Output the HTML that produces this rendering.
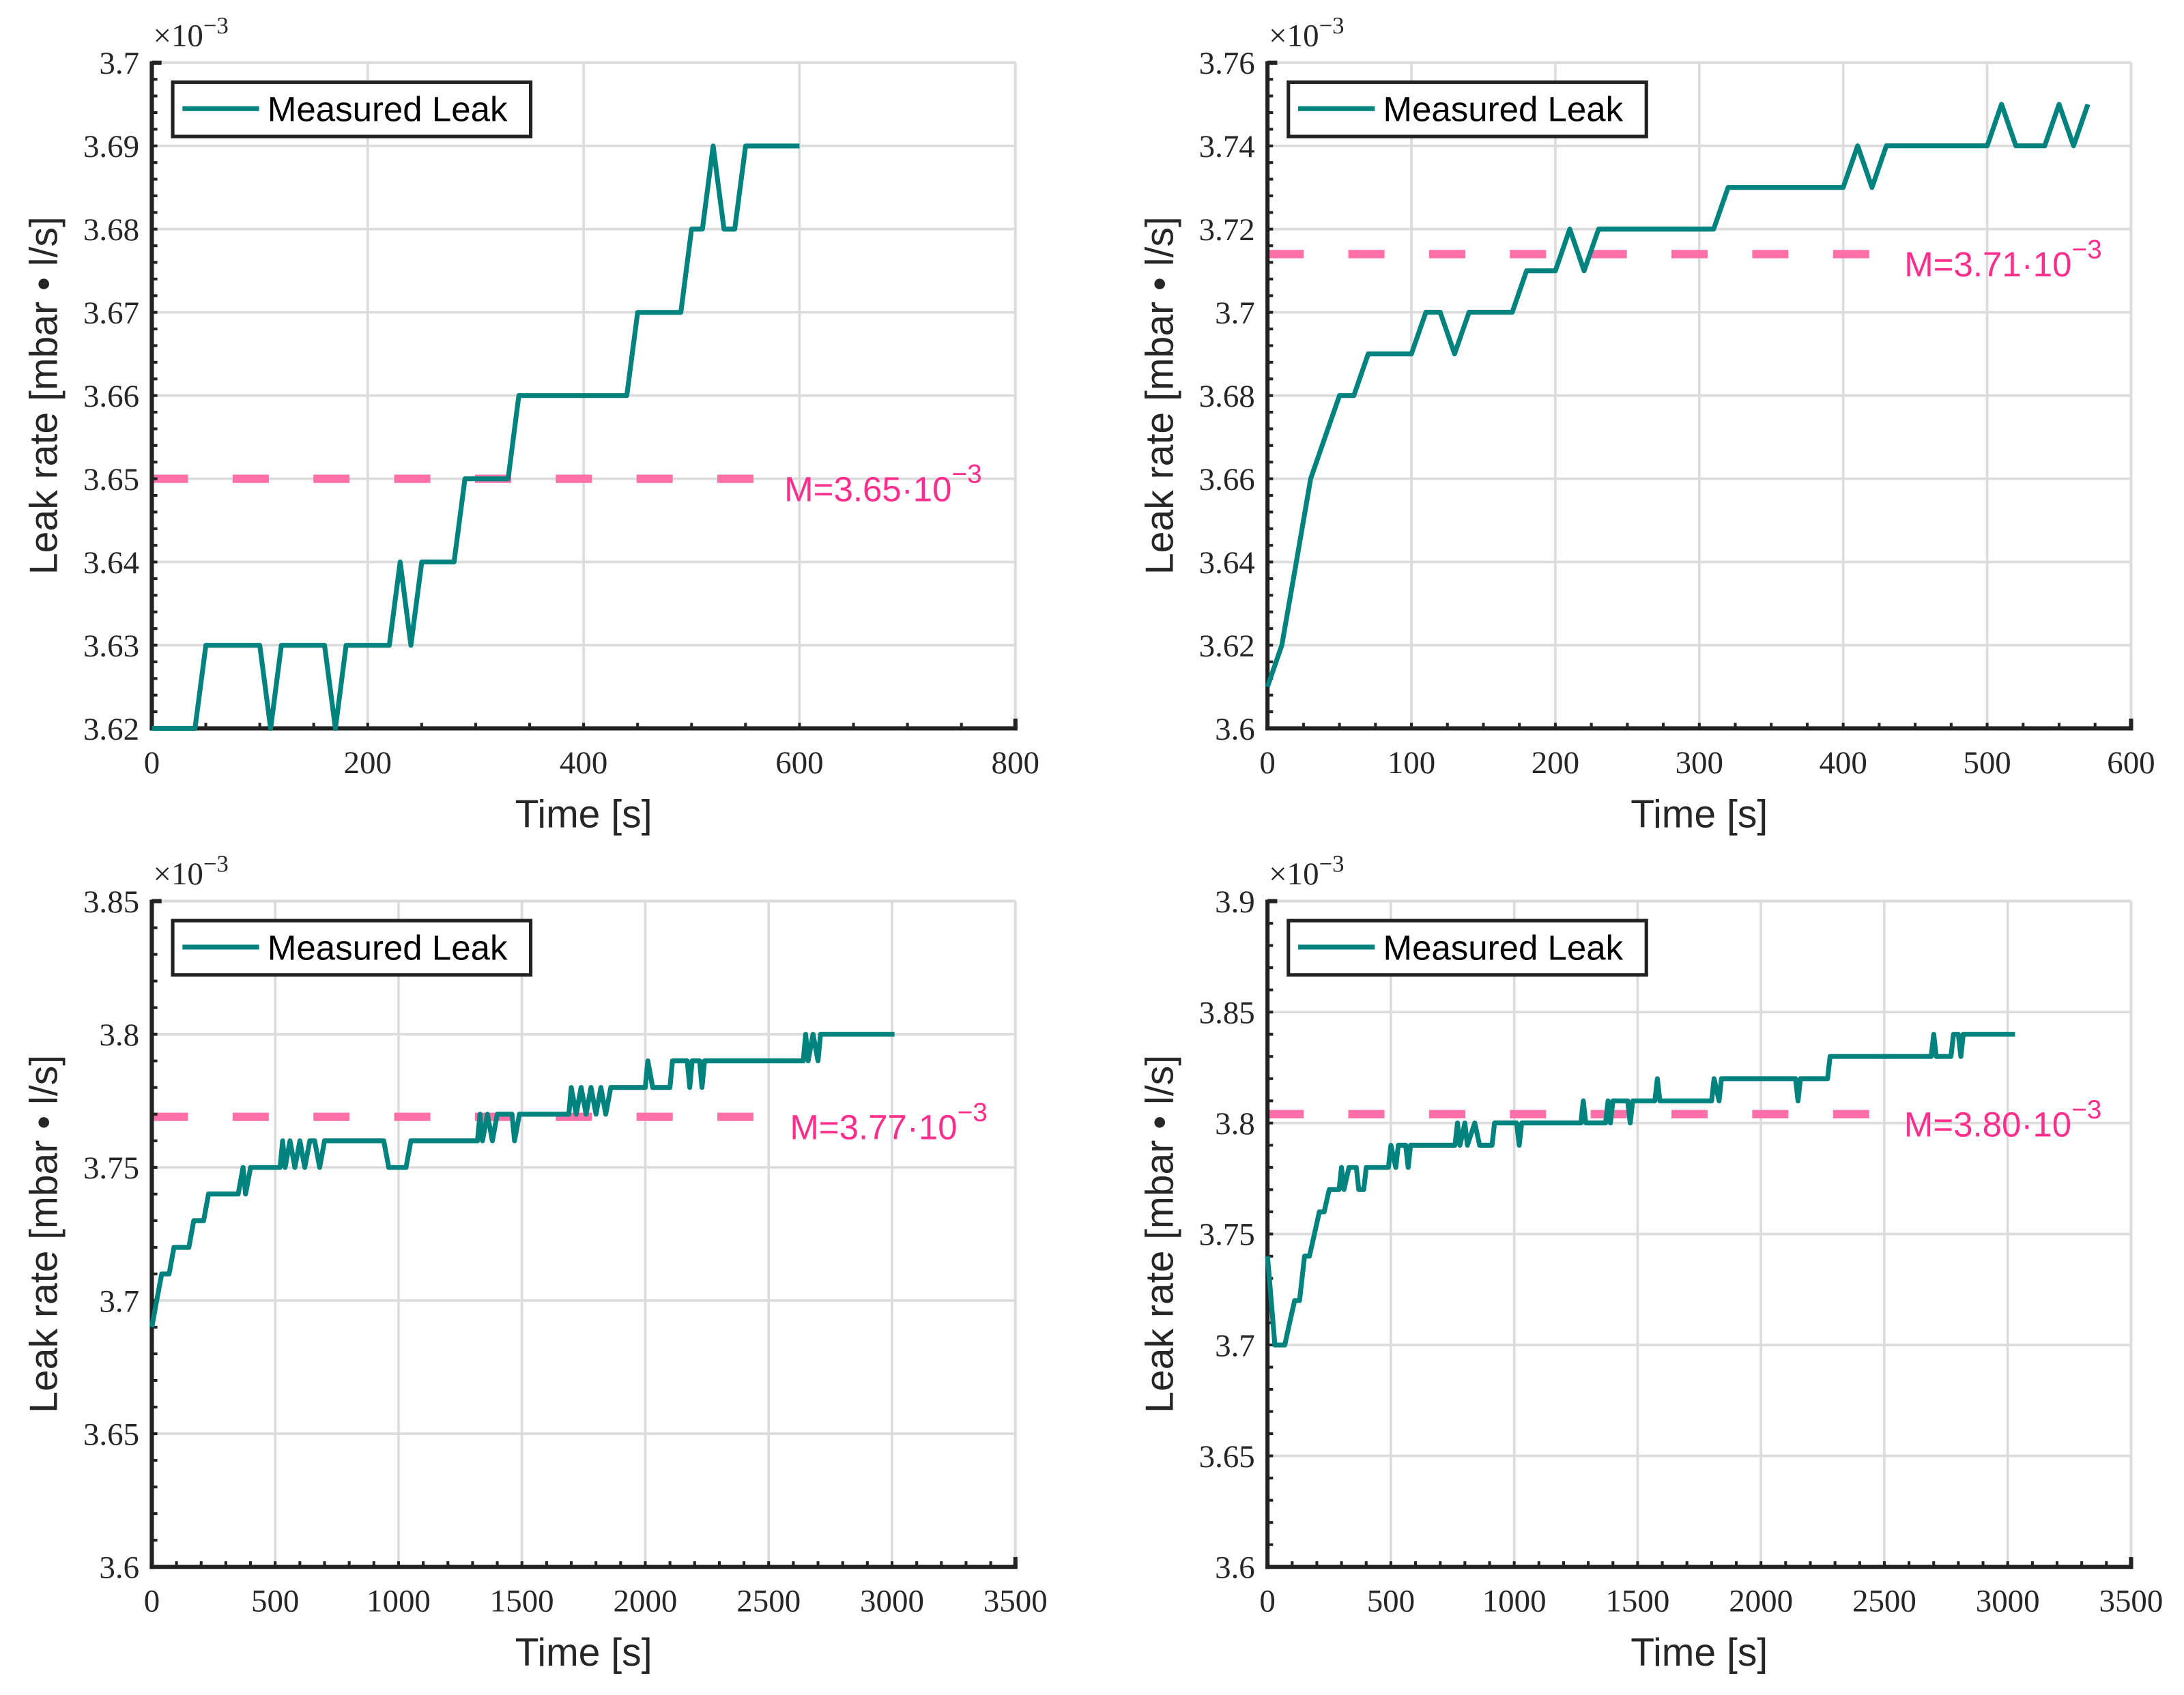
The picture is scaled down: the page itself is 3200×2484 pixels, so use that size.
<!DOCTYPE html>
<html><head><meta charset="utf-8"><style>
html,body{margin:0;padding:0;background:#fff}
svg{display:block}
.tk{font-family:"Liberation Serif",serif;font-size:23px;fill:#262626}
.lab{font-family:"Liberation Sans",sans-serif;font-size:28px;fill:#262626}
.leg{font-family:"Liberation Sans",sans-serif;font-size:25px;fill:#000}
.mean{font-family:"Liberation Sans",sans-serif;font-size:25px;fill:#ff2e8c}
</style></head><body>
<svg id="fig" width="3200" height="2484" viewBox="0 0 1568 1217" preserveAspectRatio="none" xmlns="http://www.w3.org/2000/svg"></svg>
<script>
// Panel 1 data
const p1Times=[0,40,50,100,110,120,160,170,180,220,230,240,250,280,290,330,340,440,450,490,500,510,520,530,540,550,600];
const p1Values=[3.62,3.62,3.63,3.63,3.62,3.63,3.63,3.62,3.63,3.63,3.64,3.63,3.64,3.64,3.65,3.65,3.66,3.66,3.67,3.67,3.68,3.68,3.69,3.68,3.68,3.69,3.69];
const p1Mean=3.65;
const p1YTicks=[3.62,3.63,3.64,3.65,3.66,3.67,3.68,3.69,3.7];
const p1YLabels=["3.62","3.63","3.64","3.65","3.66","3.67","3.68","3.69","3.7"];
const p1XTicks=[0,200,400,600,800];
// Panel 2 data
const p2Times=[0,10,20,30,40,50,60,70,100,110,120,130,140,170,180,200,210,220,230,310,320,400,410,420,430,500,510,520,540,550,560,570];
const p2Values=[3.61,3.62,3.64,3.66,3.67,3.68,3.68,3.69,3.69,3.70,3.70,3.69,3.70,3.70,3.71,3.71,3.72,3.71,3.72,3.72,3.73,3.73,3.74,3.73,3.74,3.74,3.75,3.74,3.74,3.75,3.74,3.75];
const p2Mean=3.714;
const p2YTicks=[3.6,3.62,3.64,3.66,3.68,3.7,3.72,3.74,3.76];
const p2YLabels=["3.6","3.62","3.64","3.66","3.68","3.7","3.72","3.74","3.76"];
const p2XTicks=[0,100,200,300,400,500,600];
// Panel 3 data
const p3Times=[0,20,40,70,90,150,170,210,230,350,370,380,400,520,530,540,560,580,600,620,640,660,680,700,940,960,1030,1050,1320,1330,1340,1360,1380,1400,1460,1470,1490,1690,1700,1720,1740,1760,1780,1800,1820,1840,1860,2000,2010,2030,2100,2110,2170,2180,2190,2220,2230,2240,2640,2650,2660,2680,2700,2710,3010];
const p3Values=[3.69,3.70,3.71,3.71,3.72,3.72,3.73,3.73,3.74,3.74,3.75,3.74,3.75,3.75,3.76,3.75,3.76,3.75,3.76,3.75,3.76,3.76,3.75,3.76,3.76,3.75,3.75,3.76,3.76,3.77,3.76,3.77,3.76,3.77,3.77,3.76,3.77,3.77,3.78,3.77,3.78,3.77,3.78,3.77,3.78,3.77,3.78,3.78,3.79,3.78,3.78,3.79,3.79,3.78,3.79,3.79,3.78,3.79,3.79,3.80,3.79,3.80,3.79,3.80,3.80];
const p3Mean=3.769;
const p3YTicks=[3.6,3.65,3.7,3.75,3.8,3.85];
const p3YLabels=["3.6","3.65","3.7","3.75","3.8","3.85"];
const p3XTicks=[0,500,1000,1500,2000,2500,3000,3500];
// Panel 4 data
const p4Times=[0,30,70,90,110,130,150,170,190,210,230,250,290,300,310,330,360,370,390,400,490,500,520,530,560,570,580,760,770,780,800,810,840,860,910,920,1010,1020,1030,1270,1280,1290,1370,1380,1390,1400,1460,1470,1480,1570,1580,1590,1800,1810,1830,1840,2140,2150,2160,2270,2280,2690,2700,2710,2770,2780,2800,2810,2820,3030];
const p4Values=[3.74,3.70,3.70,3.71,3.72,3.72,3.74,3.74,3.75,3.76,3.76,3.77,3.77,3.78,3.77,3.78,3.78,3.77,3.77,3.78,3.78,3.79,3.78,3.79,3.79,3.78,3.79,3.79,3.80,3.79,3.80,3.79,3.80,3.79,3.79,3.80,3.80,3.79,3.80,3.80,3.81,3.80,3.80,3.81,3.80,3.81,3.81,3.80,3.81,3.81,3.82,3.81,3.81,3.82,3.81,3.82,3.82,3.81,3.82,3.82,3.83,3.83,3.84,3.83,3.83,3.84,3.84,3.83,3.84,3.84];
const p4Mean=3.804;
const p4YTicks=[3.6,3.65,3.7,3.75,3.8,3.85,3.9];
const p4YLabels=["3.6","3.65","3.7","3.75","3.8","3.85","3.9"];
const p4XTicks=[0,500,1000,1500,2000,2500,3000,3500];
const meanLabels=["M=3.65·10","M=3.71·10","M=3.77·10","M=3.80·10"];

const NS="http://www.w3.org/2000/svg";
const fig=document.getElementById('fig');
function mk(tag,attrs,parent,text){const e=document.createElementNS(NS,tag);for(const k in attrs)e.setAttribute(k,attrs[k]);if(text!==undefined)e.textContent=text;parent.appendChild(e);return e;}

function panel(idx,L,T,xMax,yMin,yMax,xTicks,yTicks,yLabels,xMinorStep,yMinorStep,times,vals,mean,meanEnd){
  const R=L+620,B=T+478;
  const sx=v=>L+v/xMax*(R-L);
  const sy=v=>B-(v-yMin)/(yMax-yMin)*(B-T);
  const g=mk('g',{},fig);
  
  
  xTicks.forEach(t=>{const l=mk('line',{x1:sx(t),x2:sx(t),y1:T,y2:B,stroke:'#dcdcdc','stroke-width':1.8},g);});
  yTicks.forEach(t=>{const l=mk('line',{x1:L,x2:R,y1:sy(t),y2:sy(t),stroke:'#dcdcdc','stroke-width':1.8},g);});
  mk('line',{x1:L,x2:R,y1:T,y2:T,stroke:'#dcdcdc','stroke-width':2},g);
  mk('line',{x1:R,x2:R,y1:T,y2:B,stroke:'#dcdcdc','stroke-width':2},g);
  const m=mk('line',{x1:sx(0),x2:sx(meanEnd),y1:sy(mean),y2:sy(mean),stroke:'#ff6fa8','stroke-width':6,'stroke-dasharray':'26 32'},g);
  
  
  const mt=mk('text',{x:sx(meanEnd)+17,y:sy(mean)+16,class:'mean'},g,meanLabels[idx-1]);
  
  
  mk('tspan',{dy:-13,'font-size':19},mt,'−3');
  // axes
  mk('line',{x1:L,x2:L,y1:T-1,y2:B+1.5,stroke:'#222','stroke-width':3},g);
  mk('line',{x1:L-1.5,x2:R+1.5,y1:B,y2:B,stroke:'#222','stroke-width':3},g);
  mk('line',{x1:R,x2:R,y1:B,y2:B-7,stroke:'#222','stroke-width':3},g);
  mk('line',{x1:L,x2:L+7,y1:T,y2:T,stroke:'#222','stroke-width':3},g);
  for(let v=yMin;v<=yMax+1e-9;v+=yMinorStep){mk('line',{x1:L,x2:L+4,y1:sy(v),y2:sy(v),stroke:'#222','stroke-width':2},g);}
  for(let v=0;v<=xMax+1e-9;v+=xMinorStep){mk('line',{x1:sx(v),x2:sx(v),y1:B,y2:B-4,stroke:'#222','stroke-width':2},g);}
  // series (on top)
  const pts=times.map((t,i)=>sx(t).toFixed(1)+','+sy(vals[i]).toFixed(1)).join(' ');
  const pl=mk('polyline',{points:pts,fill:'none',stroke:'#00827f','stroke-width':3.5,'stroke-linejoin':'round'},g);
  
  
  xTicks.forEach(t=>{const tx=mk('text',{x:sx(t),y:B+32,'text-anchor':'middle',class:'tk'},g,String(t));});
  yTicks.forEach((t,i)=>{const tx=mk('text',{x:L-9,y:sy(t)+8,'text-anchor':'end',class:'tk'},g,yLabels[i]);});
  const ex=mk('text',{x:L+1,y:T-12,class:'tk','font-size':22},g,'×10');
  
  
  mk('tspan',{dy:-9,'font-size':17},ex,'−3');
  const xl=mk('text',{x:(L+R)/2,y:B+71,'text-anchor':'middle',class:'lab'},g,'Time [s]');
  
  
  const yl=mk('text',{x:0,y:0,'text-anchor':'middle',class:'lab',transform:`translate(${L-68},${(T+B)/2}) rotate(-90)`},g,'Leak rate [mbar • l/s]');
  
  
  const lg=mk('g',{},g);
  
  
  mk('rect',{x:L+15,y:T+14,width:257,height:39,fill:'#fff',stroke:'#222','stroke-width':2.5},lg);
  mk('line',{x1:L+22,x2:L+77,y1:T+33,y2:T+33,stroke:'#00827f','stroke-width':3.5},lg);
  mk('text',{x:L+83,y:T+42,class:'leg'},lg,'Measured Leak');
}
panel(1,109,45,800,3.62,3.70,p1XTicks,p1YTicks,p1YLabels,50,0.002,p1Times,p1Values,p1Mean,564);
panel(2,910,45,600,3.60,3.76,p2XTicks,p2YTicks,p2YLabels,25,0.004,p2Times,p2Values,p2Mean,426);
panel(3,109,647,3500,3.60,3.85,p3XTicks,p3YTicks,p3YLabels,100,0.01,p3Times,p3Values,p3Mean,2490);
panel(4,910,647,3500,3.60,3.90,p4XTicks,p4YTicks,p4YLabels,100,0.01,p4Times,p4Values,p4Mean,2484);
</script>
</body></html>
